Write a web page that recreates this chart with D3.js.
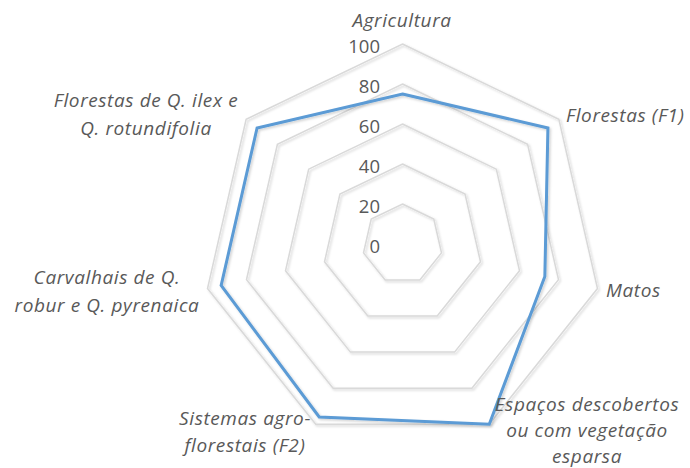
<!DOCTYPE html>
<html><head><meta charset="utf-8">
<script src="https://cdn.jsdelivr.net/npm/d3@7"></script>
<style>body{margin:0;background:#fff}svg{display:block}</style>
</head><body>
<script>
const categories = [
  ["Agricultura"],
  ["Florestas (F1)"],
  ["Matos"],
  ["Espaços descobertos","ou com vegetação","esparsa"],
  ["Sistemas agro-","florestais (F2)"],
  ["Carvalhais de Q.","robur e Q. pyrenaica"],
  ["Florestas de Q. ilex e","Q. rotundifolia"]
];
const values = [75, 93, 73, 100, 96, 93, 93];
const ticks = [0, 20, 40, 60, 80, 100];

const W = 690, H = 468, cx = 402.5, cy = 244, R = 200;
const svg = d3.select("body").append("svg").attr("width", W).attr("height", H);
const defs = svg.append("defs");
const f = defs.append("filter").attr("id","sh").attr("x","-20%").attr("y","-20%").attr("width","140%").attr("height","140%");
f.append("feDropShadow").attr("dx",1.5).attr("dy",1.5).attr("stdDeviation",0.8).attr("flood-color","#000").attr("flood-opacity",0.18);

const r = d3.scaleLinear().domain([0, 100]).range([0, R]);
const n = categories.length;
const ang = d3.scaleLinear().domain([0, n]).range([0, 2*Math.PI]);
const pt = (i, v) => [cx + r(v)*Math.sin(ang(i)), cy - r(v)*Math.cos(ang(i))];
const line = d3.line().curve(d3.curveLinearClosed);

const g = svg.append("g");
g.selectAll("path.ring").data(ticks.filter(t => t > 0)).join("path")
  .attr("class","ring")
  .attr("d", t => line(d3.range(n).map(i => pt(i, t))))
  .attr("fill","none").attr("stroke","#d9d9d9").attr("stroke-width",1.5)
  .attr("filter","url(#sh)");

g.selectAll("text.tick").data(ticks).join("text")
  .attr("class","tick")
  .attr("x", 380).attr("y", t => cy - r(t) + 8.5)
  .attr("text-anchor","end")
  .attr("font-family","Open Sans").attr("font-size",18.5).attr("fill","#595959")
  .text(t => t);

g.append("path")
  .attr("d", line(values.map((v, i) => pt(i, v))))
  .attr("fill","none").attr("stroke","#5b9bd5").attr("stroke-width",3)
  .attr("stroke-linejoin","miter").attr("filter","url(#sh)");

const labelPos = [
  {x: 402, y: 27, a: "middle", s: 27.5},
  {x: 566, y: 122, a: "start", s: 27.5},
  {x: 606, y: 297, a: "start", s: 27.5},
  {x: 587, y: 411, a: "middle", s: 26},
  {x: 245, y: 425, a: "middle", s: 27},
  {x: 107, y: 284, a: "middle", s: 28},
  {x: 146, y: 107, a: "middle", s: 27.5}
];
categories.forEach((lines, i) => {
  const p = labelPos[i];
  const t = g.append("text")
    .attr("text-anchor", p.a)
    .attr("font-family","Open Sans").attr("font-style","italic")
    .attr("font-size",19).attr("letter-spacing",0.6).attr("fill","#595959");
  lines.forEach((s, k) => t.append("tspan").attr("x", p.x).attr("y", p.y + k*p.s).text(s));
});
</script>
</body></html>
